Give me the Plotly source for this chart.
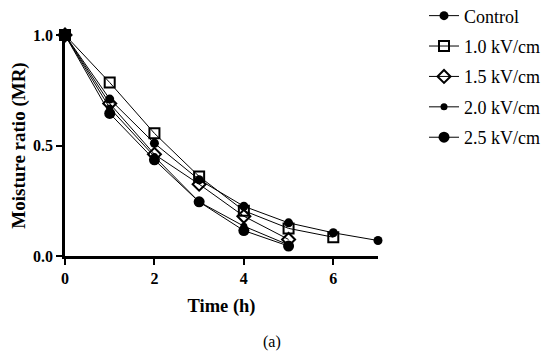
import plotly.graph_objects as go

time_h = [0, 1, 2, 3, 4, 5, 6, 7]
series_names = ["Control", "1.0 kV/cm", "1.5 kV/cm", "2.0 kV/cm", "2.5 kV/cm"]
control = [1.0, 0.71, 0.51, 0.345, 0.225, 0.15, 0.105, 0.07]
kv10 = [1.0, 0.785, 0.555, 0.36, 0.205, 0.125, 0.085]
kv15 = [1.0, 0.69, 0.46, 0.325, 0.18, 0.075]
kv20 = [1.0, 0.67, 0.45, 0.245, 0.135, 0.05]
kv25 = [1.0, 0.645, 0.435, 0.245, 0.115, 0.045]
x_ticks = [0, 2, 4, 6]
y_ticks = [0.0, 0.5, 1.0]
y_tick_labels = ["0.0", "0.5", "1.0"]

values = [control, kv10, kv15, kv20, kv25]
markers = [
    dict(symbol="circle", size=9, color="black"),
    dict(symbol="square-open", size=10, color="black", line=dict(width=2, color="black")),
    dict(symbol="diamond-open", size=10, color="black", line=dict(width=2, color="black")),
    dict(symbol="circle", size=7, color="black"),
    dict(symbol="circle", size=11, color="black"),
]

fig = go.Figure()
for i, (name, vals, mk) in enumerate(zip(series_names, values, markers)):
    fig.add_trace(go.Scatter(
        x=time_h[:len(vals)], y=vals, name=name, mode="lines+markers",
        line=dict(color="black", width=1), marker=mk, cliponaxis=False,
        legendgroup="g%d" % i,
    ))

font_family = "Liberation Serif"
fig.update_layout(
    width=542, height=349,
    margin=dict(l=57, r=172, t=27, b=101, autoexpand=False),
    paper_bgcolor="white", plot_bgcolor="white",
    font=dict(family=font_family, color="black"),
    showlegend=True,
    legend=dict(x=1.147, y=1.17, xanchor="left", yanchor="top",
                font=dict(size=18, family=font_family), tracegroupgap=4,
                bgcolor="rgba(0,0,0,0)"),
    xaxis=dict(range=[0, 7], tickvals=x_ticks, showline=True, linecolor="black", linewidth=2.5,
               ticks="outside", ticklen=6, tickwidth=2, tickcolor="black", showgrid=False,
               zeroline=False, automargin=False,
               tickfont=dict(size=16, family=font_family, weight="bold"),
               title=dict(text="<b>Time (h)</b>", font=dict(size=18.5), standoff=14)),
    yaxis=dict(range=[0, 1], tickvals=y_ticks, ticktext=y_tick_labels, showline=True,
               linecolor="black", linewidth=2.5, ticks="outside", ticklen=6, tickwidth=2,
               tickcolor="black", showgrid=False, zeroline=False, automargin=False,
               tickfont=dict(size=16, family=font_family, weight="bold"),
               title=dict(text="<b>Moisture ratio (MR)</b>", font=dict(size=19), standoff=8)),
    annotations=[dict(text="(a)", x=0.661, y=-0.39, xref="paper", yref="paper",
                      showarrow=False, font=dict(size=16, family=font_family),
                      xanchor="center", yanchor="middle")],
)

fig.write_html("out.html")
